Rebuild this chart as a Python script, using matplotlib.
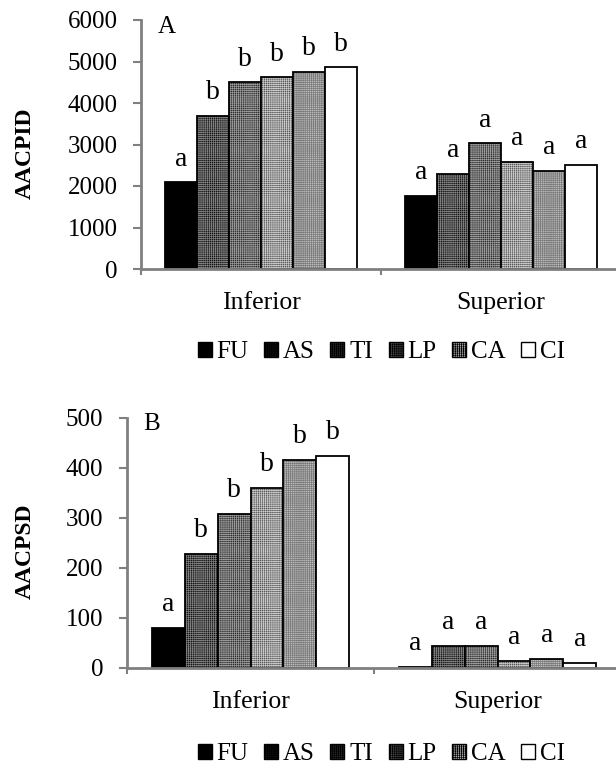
import matplotlib.pyplot as plt
import numpy as np
from matplotlib.patches import Patch

plt.rcParams['font.family'] = ['Liberation Serif', 'DejaVu Serif']

grupos = ['Inferior', 'Superior']
series = ['FU', 'AS', 'TI', 'LP', 'CA', 'CI']

aacpid_inf = [2090, 3690, 4500, 4620, 4750, 4860]
aacpid_sup = [1760, 2290, 3030, 2590, 2360, 2510]
letras_a_inf = ['a', 'b', 'b', 'b', 'b', 'b']
letras_a_sup = ['a', 'a', 'a', 'a', 'a', 'a']

aacpsd_inf = [80, 228, 308, 360, 416, 424]
aacpsd_sup = [3, 44, 44, 15, 18, 10]
letras_b_inf = ['a', 'b', 'b', 'b', 'b', 'b']
letras_b_sup = ['a', 'a', 'a', 'a', 'a', 'a']

# fondo y color de la trama para cada serie
fondos = ['black', '#111111', '#2a2a2a', '#555555', '#bdbdbd', 'white']
tramas = ['black', '#808080', '#9a9a9a', '#c8c8c8', '#7a7a7a', 'white']
patron = ['', '++++++++', '++++++++', '++++++++', '++++++++', '']

plt.rcParams['hatch.linewidth'] = 0.5
gris = '#808080'

fig = plt.figure(figsize=(6.16, 7.66), dpi=100)
# los ejes llegan un poco mas alla del borde derecho, como en el original
ax1 = fig.add_axes([141 / 616, 1 - 269 / 766, 480 / 616, 249 / 766])
ax2 = fig.add_axes([127 / 616, 1 - 668 / 766, 494 / 616, 250 / 766])

ancho = 0.8 / 6


def dibujar(ax, inf, sup, let_inf, let_sup, ymax, paso, letra, xl):
    x = np.arange(len(grupos))
    for i, s in enumerate(series):
        pos = x - 0.4 + ancho * (i + 0.5)
        vals = [inf[i], sup[i]]
        ax.bar(pos, vals, ancho, color=fondos[i], edgecolor=tramas[i],
               hatch=patron[i], linewidth=0)
        ax.bar(pos, vals, ancho, color='none', edgecolor='black', linewidth=1.3)
        for p, v, t in zip(pos, vals, [let_inf[i], let_sup[i]]):
            ax.annotate(t, (p, v), xytext=(0, 12), textcoords='offset points',
                        ha='center', va='baseline', fontsize=20)
    ax.set_xlim(-0.5, 1.5)
    ax.set_ylim(0, ymax)
    ax.set_yticks(np.arange(0, ymax + 1, paso))
    ax.set_xticks(x)
    ax.set_xticklabels(grupos, fontsize=18.5)
    ax.set_xticks([-0.5, 0.5, 1.5], minor=True)
    ax.tick_params(axis='x', which='major', length=0, pad=16.5)
    ax.tick_params(axis='x', which='minor', length=4, width=1.5, color=gris)
    ax.tick_params(axis='y', labelsize=18, length=6, width=1.5, color=gris, pad=11)
    for lado in ['top', 'right']:
        ax.spines[lado].set_visible(False)
    for lado in ['bottom', 'left']:
        ax.spines[lado].set_color(gris)
        ax.spines[lado].set_linewidth(2)
    ax.text(xl, 1.018, letra, transform=ax.transAxes, fontsize=18,
            ha='left', va='top')


dibujar(ax1, aacpid_inf, aacpid_sup, letras_a_inf, letras_a_sup, 6000, 1000, 'A', 0.035)
dibujar(ax2, aacpsd_inf, aacpsd_sup, letras_b_inf, letras_b_sup, 500, 100, 'B', 0.032)

fig.text(25 / 616, 1 - 153 / 766, 'AACPID', rotation=90, fontsize=17,
         fontweight='bold', ha='center', va='center')
fig.text(25 / 616, 1 - 551 / 766, 'AACPSD', rotation=90, fontsize=17,
         fontweight='bold', ha='center', va='center')

manijas = [Patch(facecolor=fondos[i], edgecolor='black', hatch=patron[i],
                 linewidth=1) for i in range(len(series))]
for yl in [352, 754]:
    fig.legend(manijas, series, loc='center', bbox_to_anchor=(381.5 / 616, 1 - yl / 766),
               ncol=6, frameon=False, fontsize=18, handlelength=0.56,
               handleheight=0.56, handletextpad=0.2, columnspacing=0.62,
               borderpad=0)

plt.savefig('out.png', dpi=100)
